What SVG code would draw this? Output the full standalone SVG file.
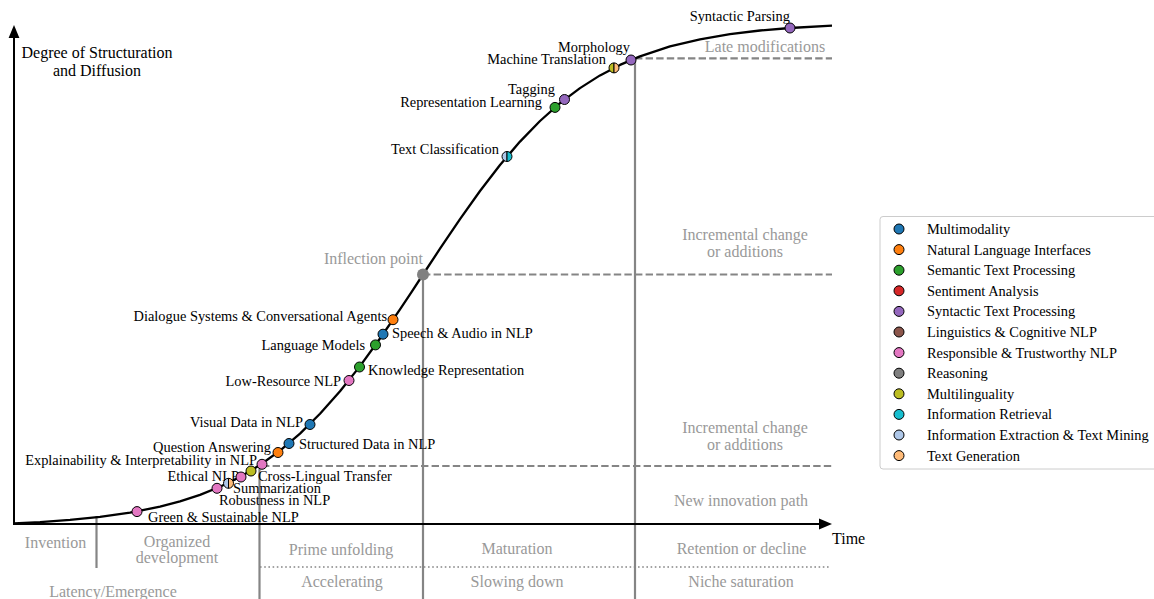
<svg xmlns="http://www.w3.org/2000/svg" width="1154" height="599" viewBox="0 0 1154 599">
<style>
text{font-family:"Liberation Serif","Times New Roman",serif}
.lbl{font-size:14.4px;fill:#000}
.ax{font-size:16px;fill:#000}
.gl{font-size:16px;fill:#999}
.leg{font-size:14.4px;fill:#000}
.mk{stroke:#000;stroke-width:1}
.gline{stroke:#858585;stroke-width:2.2;fill:none}
.dash{stroke-dasharray:7.4 3.2}
.dot{stroke-dasharray:1.6 2.6;stroke-width:1.6}
.c-mm{fill:#1f77b4}.c-nli{fill:#ff7f0e}.c-sem{fill:#2ca02c}.c-sen{fill:#d62728}
.c-syn{fill:#9467bd}.c-lin{fill:#8c564b}.c-rt{fill:#e377c2}.c-rea{fill:#7f7f7f}
.c-ml{fill:#bcbd22}.c-ir{fill:#17becf}.c-ie{fill:#aec7e8}.c-tg{fill:#ffbb78}
</style>
<rect width="1154" height="599" fill="#fff"/>

<g id="phase-labels">
<text class="gl" x="765" y="52" text-anchor="middle">Late modifications</text>
<text class="gl" x="745" y="240" text-anchor="middle">Incremental change</text>
<text class="gl" x="745" y="257" text-anchor="middle">or additions</text>
<text class="gl" x="745" y="433" text-anchor="middle">Incremental change</text>
<text class="gl" x="745" y="450" text-anchor="middle">or additions</text>
<text class="gl" x="741" y="506" text-anchor="middle">New innovation path</text>
<text class="gl" x="55.5" y="548" text-anchor="middle">Invention</text>
<text class="gl" x="177" y="547" text-anchor="middle">Organized</text>
<text class="gl" x="177" y="563" text-anchor="middle">development</text>
<text class="gl" x="113" y="597" text-anchor="middle">Latency/Emergence</text>
<text class="gl" x="341" y="555" text-anchor="middle">Prime unfolding</text>
<text class="gl" x="342" y="587" text-anchor="middle">Accelerating</text>
<text class="gl" x="517" y="554" text-anchor="middle">Maturation</text>
<text class="gl" x="517" y="587" text-anchor="middle">Slowing down</text>
<text class="gl" x="741.5" y="554" text-anchor="middle">Retention or decline</text>
<text class="gl" x="741" y="587" text-anchor="middle">Niche saturation</text>
</g>

<g id="connectors">
<line class="gline dash" x1="423" y1="274.5" x2="832" y2="274.5"/>
<line class="gline dash" x1="262" y1="466" x2="832" y2="466"/>
<line class="gline dash" x1="635" y1="58.3" x2="832" y2="58.3"/>
<line class="gline" x1="259.5" y1="466" x2="259.5" y2="599"/>
<line class="gline" x1="423" y1="274.5" x2="423" y2="599"/>
<line class="gline" x1="635" y1="58.3" x2="635" y2="599"/>
<line class="gline" x1="96.5" y1="516" x2="96.5" y2="568"/>
<line class="gline dot" x1="260" y1="567" x2="829" y2="567"/>
<line x1="14" y1="524" x2="14" y2="36" stroke="#000" stroke-width="2"/>
<polygon points="14,25 8.6,38 19.4,38" fill="#000"/>
<line x1="13" y1="524" x2="821" y2="524" stroke="#000" stroke-width="2"/>
<polygon points="832,524 819,518.5 819,529.5" fill="#000"/>
<path d="M14,523.4 L40,522.1 L70,519.9 L100,516.9 L130,512.7 L160,506.7 L180,501.4 L200,494.9 L220,486.8 L240,477.0 L260,465.0 L280,450.6 L300,433.6 L320,413.8 L340,391.3 L360,366.1 L380,338.5 L400,309.3 L411.5,292.2 L423,274.5 L440,248.7 L460,219.1 L480,191.0 L500,165.0 L520,141.6 L540,121.0 L560,103.2 L580,88.1 L600,75.4 L620,64.9 L640,56.4 L670,46.4 L700,39.3 L730,34.2 L760,30.5 L790,28.0 L832,25.6" fill="none" stroke="#000" stroke-width="2.3" stroke-linejoin="round"/>
</g>

<g id="axis-labels">
<text class="ax" x="97" y="58" text-anchor="middle">Degree of Structuration</text>
<text class="ax" x="97" y="76" text-anchor="middle">and Diffusion</text>
<text class="ax" x="832" y="544">Time</text>
</g>

<g id="node-syntactic-parsing"><text class="lbl" x="790" y="21" text-anchor="end">Syntactic Parsing</text><circle class="mk c-syn" cx="790" cy="28" r="5"/></g>
<g id="node-morphology"><text class="lbl" x="630" y="52" text-anchor="end">Morphology</text><circle class="mk c-syn" cx="631" cy="60" r="5"/></g>
<g id="node-machine-translation"><text class="lbl" x="606" y="64" text-anchor="end">Machine Translation</text>
<path class="mk c-ml" d="M614,62.9 A5,5 0 0 0 614,72.9 Z"/><path class="mk c-tg" d="M614,62.9 A5,5 0 0 1 614,72.9 Z"/></g>
<g id="node-tagging"><text class="lbl" x="555" y="94" text-anchor="end">Tagging</text><circle class="mk c-syn" cx="564.5" cy="99.5" r="5"/></g>
<g id="node-representation-learning"><text class="lbl" x="542" y="107" text-anchor="end">Representation Learning</text><circle class="mk c-sem" cx="555" cy="107.4" r="5"/></g>
<g id="node-text-classification"><text class="lbl" x="499" y="154" text-anchor="end">Text Classification</text>
<path class="mk c-ie" d="M507,151.5 A5,5 0 0 0 507,161.5 Z"/><path class="mk c-ir" d="M507,151.5 A5,5 0 0 1 507,161.5 Z"/></g>
<g id="node-inflection-point"><text class="gl" x="423" y="264" text-anchor="end">Inflection point</text><circle cx="423" cy="274.5" r="6" fill="#808080"/></g>
<g id="node-dialogue-systems"><text class="lbl" x="387" y="321" text-anchor="end">Dialogue Systems &amp; Conversational Agents</text><circle class="mk c-nli" cx="393" cy="319.7" r="5"/></g>
<g id="node-speech-audio"><text class="lbl" x="392" y="338">Speech &amp; Audio in NLP</text><circle class="mk c-mm" cx="383" cy="334.2" r="5"/></g>
<g id="node-language-models"><text class="lbl" x="365" y="350" text-anchor="end">Language Models</text><circle class="mk c-sem" cx="375.5" cy="344.9" r="5"/></g>
<g id="node-knowledge-representation"><text class="lbl" x="368" y="375">Knowledge Representation</text><circle class="mk c-sem" cx="359.5" cy="367" r="5"/></g>
<g id="node-low-resource"><text class="lbl" x="341" y="386" text-anchor="end">Low-Resource NLP</text><circle class="mk c-rt" cx="349" cy="380.5" r="5"/></g>
<g id="node-visual-data"><text class="lbl" x="303" y="427" text-anchor="end">Visual Data in NLP</text><circle class="mk c-mm" cx="310" cy="424.5" r="5"/></g>
<g id="node-structured-data"><text class="lbl" x="299" y="449">Structured Data in NLP</text><circle class="mk c-mm" cx="289" cy="443.5" r="5"/></g>
<g id="node-question-answering"><text class="lbl" x="271" y="452" text-anchor="end">Question Answering</text><circle class="mk c-nli" cx="278" cy="452.5" r="5"/></g>
<g id="node-explainability"><text class="lbl" x="257" y="465" text-anchor="end">Explainability &amp; Interpretability in NLP</text><circle class="mk c-rt" cx="262" cy="464.3" r="5"/></g>
<g id="node-ethical-nlp"><text class="lbl" x="239" y="481" text-anchor="end">Ethical NLP</text><circle class="mk c-rt" cx="241" cy="477" r="5"/></g>
<g id="node-cross-lingual"><text class="lbl" x="258" y="481">Cross-Lingual Transfer</text><circle class="mk c-ml" cx="251" cy="471" r="5"/></g>
<g id="node-summarization"><text class="lbl" x="233" y="493">Summarization</text>
<path class="mk c-ie" d="M228.5,478.3 A5,5 0 0 0 228.5,488.3 Z"/><path class="mk c-tg" d="M228.5,478.3 A5,5 0 0 1 228.5,488.3 Z"/></g>
<g id="node-robustness"><text class="lbl" x="219" y="505">Robustness in NLP</text><circle class="mk c-rt" cx="217" cy="488.3" r="5"/></g>
<g id="node-green-nlp"><text class="lbl" x="148" y="522">Green &amp; Sustainable NLP</text><circle class="mk c-rt" cx="137" cy="511.6" r="5"/></g>

<g id="legend">
<rect x="880" y="216.5" width="290" height="252.5" rx="3" fill="#fff" stroke="#ccc" stroke-width="1"/>
<circle class="mk c-mm" cx="899" cy="229" r="5"/><text class="leg" x="927" y="234">Multimodality</text>
<circle class="mk c-nli" cx="899" cy="249.6" r="5"/><text class="leg" x="927" y="254.6">Natural Language Interfaces</text>
<circle class="mk c-sem" cx="899" cy="270.2" r="5"/><text class="leg" x="927" y="275.2">Semantic Text Processing</text>
<circle class="mk c-sen" cx="899" cy="290.8" r="5"/><text class="leg" x="927" y="295.8">Sentiment Analysis</text>
<circle class="mk c-syn" cx="899" cy="311.4" r="5"/><text class="leg" x="927" y="316.4">Syntactic Text Processing</text>
<circle class="mk c-lin" cx="899" cy="332" r="5"/><text class="leg" x="927" y="337">Linguistics &amp; Cognitive NLP</text>
<circle class="mk c-rt" cx="899" cy="352.6" r="5"/><text class="leg" x="927" y="357.6">Responsible &amp; Trustworthy NLP</text>
<circle class="mk c-rea" cx="899" cy="373.2" r="5"/><text class="leg" x="927" y="378.2">Reasoning</text>
<circle class="mk c-ml" cx="899" cy="393.8" r="5"/><text class="leg" x="927" y="398.8">Multilinguality</text>
<circle class="mk c-ir" cx="899" cy="414.4" r="5"/><text class="leg" x="927" y="419.4">Information Retrieval</text>
<circle class="mk c-ie" cx="899" cy="435" r="5"/><text class="leg" x="927" y="440">Information Extraction &amp; Text Mining</text>
<circle class="mk c-tg" cx="899" cy="455.6" r="5"/><text class="leg" x="927" y="460.6">Text Generation</text>
</g>
</svg>
